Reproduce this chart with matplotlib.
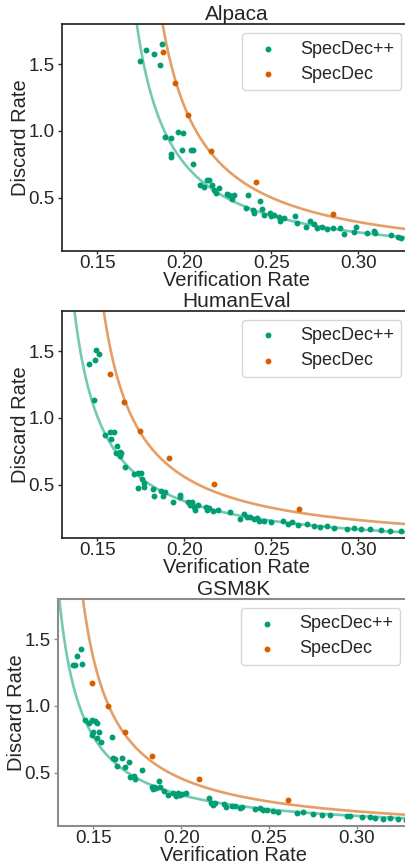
import numpy as np
import matplotlib
matplotlib.use("Agg")
import matplotlib.pyplot as plt

# ----------------------------
# fonts / style
# ----------------------------
plt.rcParams['font.family'] = ['Liberation Sans', 'DejaVu Sans']
plt.rcParams['text.color'] = '#262626'
plt.rcParams['axes.labelcolor'] = '#262626'

GREEN = '#029e73'
ORANGE = '#d55e00'

titles = ["Alpaca", "HumanEval", "GSM8K"]
labels = ["SpecDec++", "SpecDec"]

# ----------------------------
# data
# ----------------------------
# Alpaca
alpaca_pp_x = [0.1748, 0.1779, 0.1829, 0.1871, 0.1861, 0.1888, 0.1926, 0.1965, 0.1993, 0.1925,
               0.1925, 0.1990, 0.2039, 0.2053, 0.2049, 0.2093, 0.2116, 0.2133, 0.2145, 0.2160,
               0.2172, 0.2181, 0.2200, 0.2246, 0.2256, 0.2273, 0.2287, 0.2365, 0.2357, 0.2396,
               0.2400, 0.2438, 0.2449, 0.2457, 0.2492, 0.2499, 0.2515, 0.2545, 0.2553, 0.2572,
               0.2637, 0.2649, 0.2702, 0.2725, 0.2748, 0.2764, 0.2794, 0.2821, 0.2856, 0.2898,
               0.2921, 0.2974, 0.2986, 0.3051, 0.3089, 0.3097, 0.3189, 0.3227, 0.3243]
alpaca_pp_y = [1.525, 1.606, 1.578, 1.654, 1.494, 0.957, 0.944, 0.994, 0.984, 0.825,
               0.803, 0.856, 0.858, 0.861, 0.752, 0.595, 0.583, 0.631, 0.631, 0.593,
               0.555, 0.535, 0.570, 0.530, 0.517, 0.487, 0.517, 0.517, 0.424, 0.404,
               0.383, 0.472, 0.416, 0.368, 0.386, 0.361, 0.371, 0.353, 0.328, 0.345,
               0.366, 0.313, 0.277, 0.323, 0.300, 0.270, 0.280, 0.265, 0.270, 0.275,
               0.229, 0.239, 0.277, 0.234, 0.247, 0.234, 0.222, 0.207, 0.201]
alpaca_sd_x = [0.1879, 0.1945, 0.2020, 0.2156, 0.2411, 0.2856]
alpaca_sd_y = [1.590, 1.360, 1.120, 0.853, 0.620, 0.376]

# HumanEval
human_pp_x = [0.1455, 0.1486, 0.1492, 0.1509, 0.1480, 0.1543, 0.1576, 0.1595, 0.1582, 0.1614,
              0.1610, 0.1630, 0.1637, 0.1630, 0.1658, 0.1710, 0.1733, 0.1754, 0.1758, 0.1767,
              0.1733, 0.1767, 0.1821, 0.1825, 0.1867, 0.1892, 0.1879, 0.1936, 0.1974, 0.1978,
              0.2022, 0.2032, 0.2045, 0.2055, 0.2061, 0.2080, 0.2126, 0.2131, 0.2145, 0.2166,
              0.2197, 0.2266, 0.2323, 0.2342, 0.2361, 0.2377, 0.2400, 0.2419, 0.2430, 0.2457,
              0.2499, 0.2568, 0.2595, 0.2620, 0.2652, 0.2706, 0.2744, 0.2783, 0.2821, 0.2859,
              0.2936, 0.2974, 0.3013, 0.3070, 0.3128, 0.3185, 0.3243]
human_pp_y = [1.407, 1.437, 1.505, 1.475, 1.133, 0.869, 0.897, 0.892, 0.842, 0.791,
              0.736, 0.746, 0.739, 0.716, 0.633, 0.578, 0.590, 0.588, 0.545, 0.515,
              0.477, 0.480, 0.467, 0.417, 0.457, 0.445, 0.415, 0.374, 0.427, 0.407,
              0.369, 0.352, 0.374, 0.334, 0.314, 0.352, 0.332, 0.314, 0.324, 0.302,
              0.314, 0.296, 0.244, 0.279, 0.261, 0.256, 0.244, 0.251, 0.231, 0.231,
              0.224, 0.226, 0.206, 0.219, 0.198, 0.206, 0.193, 0.188, 0.193, 0.176,
              0.168, 0.176, 0.173, 0.168, 0.163, 0.158, 0.156]
human_sd_x = [0.1572, 0.1652, 0.1748, 0.1911, 0.2172, 0.2662]
human_sd_y = [1.327, 1.121, 0.902, 0.698, 0.503, 0.317]

# GSM8K
gsm_pp_x = [0.1382, 0.1396, 0.1405, 0.1428, 0.1434, 0.1453, 0.1477, 0.1492, 0.1508, 0.1523,
            0.1494, 0.1500, 0.1523, 0.1532, 0.1546, 0.1604, 0.1614, 0.1623, 0.1637, 0.1661,
            0.1680, 0.1705, 0.1709, 0.1732, 0.1739, 0.1775, 0.1832, 0.1838, 0.1845, 0.1857,
            0.1872, 0.1880, 0.1902, 0.1927, 0.1956, 0.1971, 0.1984, 0.1994, 0.2003, 0.2028,
            0.2159, 0.2168, 0.2183, 0.2193, 0.2244, 0.2256, 0.2288, 0.2307, 0.2335, 0.2345,
            0.2421, 0.2449, 0.2468, 0.2487, 0.2525, 0.2554, 0.2662, 0.2692, 0.2753, 0.2800,
            0.2848, 0.2943, 0.2962, 0.3028, 0.3076, 0.3104, 0.3152, 0.3189, 0.3237, 0.3281]
gsm_pp_y = [1.305, 1.303, 1.373, 1.423, 1.313, 0.893, 0.873, 0.893, 0.888, 0.873,
            0.778, 0.803, 0.756, 0.806, 0.731, 0.768, 0.611, 0.599, 0.551, 0.606,
            0.539, 0.576, 0.469, 0.471, 0.449, 0.519, 0.394, 0.374, 0.389, 0.381,
            0.439, 0.394, 0.359, 0.334, 0.349, 0.326, 0.344, 0.329, 0.339, 0.349,
            0.306, 0.269, 0.257, 0.274, 0.262, 0.239, 0.252, 0.252, 0.232, 0.239,
            0.227, 0.232, 0.219, 0.219, 0.214, 0.204, 0.199, 0.207, 0.189, 0.182,
            0.182, 0.174, 0.177, 0.169, 0.164, 0.162, 0.152, 0.162, 0.149, 0.144]
gsm_sd_x = [0.1494, 0.1582, 0.1680, 0.1834, 0.2104, 0.2609]
gsm_sd_y = [1.173, 1.001, 0.806, 0.621, 0.451, 0.292]

# trend curves: positions
alpaca_pp_fit_x = [0.1729, 0.1894, 0.1940, 0.2049, 0.2112, 0.2285, 0.2438, 0.2629, 0.2821, 0.3013, 0.3277]
alpaca_pp_fit_y = [1.800, 0.957, 0.820, 0.752, 0.643, 0.467, 0.378, 0.315, 0.270, 0.234, 0.201]
alpaca_sd_fit_x = [0.1879, 0.1946, 0.2020, 0.2156, 0.2411, 0.2630, 0.2856, 0.3013, 0.3277]
alpaca_sd_fit_y = [1.800, 1.361, 1.121, 0.853, 0.568, 0.454, 0.353, 0.303, 0.252]

human_pp_fit_x = [0.1369, 0.1480, 0.1546, 0.1612, 0.1710, 0.1863, 0.2055, 0.2246, 0.2438, 0.2629, 0.2821, 0.3013, 0.3277]
human_pp_fit_y = [1.800, 1.133, 0.869, 0.740, 0.578, 0.432, 0.344, 0.289, 0.244, 0.214, 0.188, 0.173, 0.156]
human_sd_fit_x = [0.1543, 0.1595, 0.1662, 0.1748, 0.1911, 0.2172, 0.2662, 0.3013, 0.3277]
human_sd_fit_y = [1.800, 1.327, 1.121, 0.902, 0.698, 0.457, 0.281, 0.224, 0.193]

gsm_pp_fit_x = [0.1310, 0.1358, 0.1434, 0.1500, 0.1546, 0.1633, 0.1739, 0.1880, 0.2069, 0.2259, 0.2449, 0.2639, 0.2829, 0.3019, 0.3281]
gsm_pp_fit_y = [1.755, 1.305, 0.893, 0.778, 0.731, 0.594, 0.449, 0.374, 0.306, 0.257, 0.227, 0.207, 0.189, 0.174, 0.154]
gsm_sd_fit_x = [0.1443, 0.1519, 0.1595, 0.1680, 0.1834, 0.2104, 0.2609, 0.3019, 0.3281]
gsm_sd_fit_y = [1.800, 1.173, 1.001, 0.806, 0.621, 0.406, 0.249, 0.199, 0.174]

datasets = [
    (alpaca_pp_x, alpaca_pp_y, alpaca_sd_x, alpaca_sd_y),
    (human_pp_x, human_pp_y, human_sd_x, human_sd_y),
    (gsm_pp_x, gsm_pp_y, gsm_sd_x, gsm_sd_y),
]
fit_lines = [
    ((alpaca_pp_fit_x, alpaca_pp_fit_y), (alpaca_sd_fit_x, alpaca_sd_fit_y)),
    ((human_pp_fit_x, human_pp_fit_y), (human_sd_fit_x, human_sd_fit_y)),
    ((gsm_pp_fit_x, gsm_pp_fit_y), (gsm_sd_fit_x, gsm_sd_fit_y)),
]

# axes boxes in figure fractions (last panel slightly wider, grey frame)
positions = [
    [0.1534, 0.7098, 0.8576, 0.2621],
    [0.1534, 0.3777, 0.8576, 0.2628],
    [0.1436, 0.0451, 0.8648, 0.2624],
]
frame_colors = ['#262626', '#262626', '#8c8c8c']


def hyper_fit(x, y):
    """least squares fit of y = a / (x - b) + c (grid over b, linear in a, c)"""
    x = np.asarray(x)
    y = np.asarray(y)
    best = None
    for b in np.linspace(x.min() - 0.15, x.min() - 0.002, 800):
        A = np.column_stack([1.0 / (x - b), np.ones_like(x)])
        coef, *_ = np.linalg.lstsq(A, y, rcond=None)
        err = np.sum((A @ coef - y) ** 2)
        if best is None or err < best[0]:
            best = (err, b, coef)
    _, b, (a, c) = best

    def f(t):
        out = a / (t - b) + c
        out[t <= b] = np.nan
        return out
    return f


fig = plt.figure(figsize=(4.06, 8.65), dpi=100)

for i, (ppx, ppy, sdx, sdy) in enumerate(datasets):
    ax = fig.add_axes(positions[i])
    xs = np.linspace(0.125, 0.34, 400)
    (fpx, fpy), (fsx, fsy) = fit_lines[i]
    f_pp = hyper_fit(fpx, fpy)
    f_sd = hyper_fit(fsx, fsy)
    ax.plot(xs, f_pp(xs), color=GREEN, alpha=0.55, lw=1.9, zorder=1)
    ax.plot(xs, f_sd(xs), color=ORANGE, alpha=0.6, lw=1.9, zorder=1)
    ax.scatter(ppx, ppy, s=18, color=GREEN, label=labels[0], zorder=2, linewidths=0)
    ax.scatter(sdx, sdy, s=18, color=ORANGE, label=labels[1], zorder=2, linewidths=0)

    ax.set_xlim(0.13, 0.33)
    ax.set_ylim(0.1, 1.8)
    ax.set_xticks([0.15, 0.20, 0.25, 0.30])
    ax.set_yticks([0.5, 1.0, 1.5])
    ax.tick_params(labelsize=13.5, width=1, labelcolor='#262626', color=frame_colors[i])
    ax.tick_params(axis='x', length=2, pad=1.0)
    ax.tick_params(axis='y', length=3, pad=2.5)
    for sp in ax.spines.values():
        sp.set_color(frame_colors[i])
        sp.set_linewidth(1.5 if i == 2 else 1.25)
    ax.spines['right'].set_visible(False)
    ax.set_xlabel("Verification Rate", fontsize=14.5, labelpad=-1.0)
    ax.set_ylabel("Discard Rate", fontsize=14.5, labelpad=-0.8)
    ax.set_title(titles[i], fontsize=15, pad=0)
    ax.legend(loc="upper right", fontsize=13, labelspacing=0.45, frameon=True)

fig.savefig("out.png", dpi=100)
